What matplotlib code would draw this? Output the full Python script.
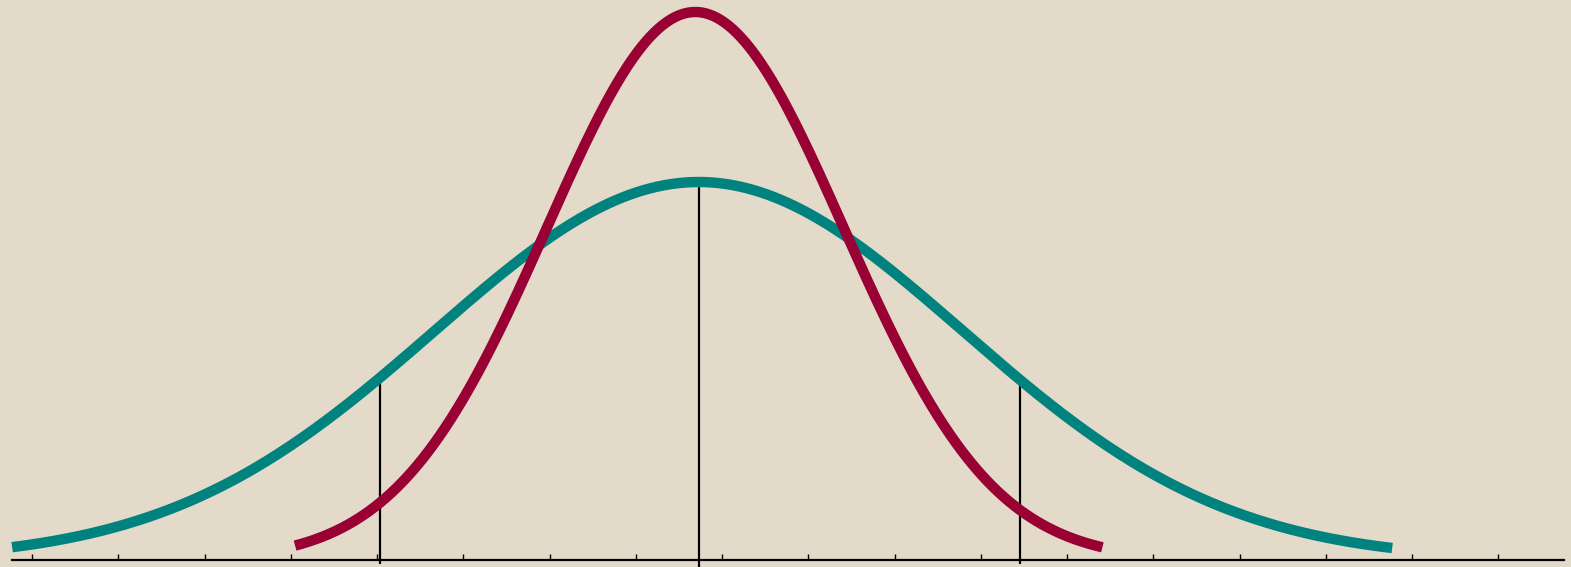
import matplotlib
matplotlib.use('Agg')
import matplotlib.pyplot as plt
import numpy as np

#------------------------------------------------
# values (x in tick units, y in arbitrary height units)
tick_pos = list(range(0, 18))          # small ticks along the base line
axis_span = [-0.23, 17.76]             # where the base line starts and stops

# wide (teal) curve
teal_mean = 7.73
teal_sd = 3.06
teal_peak = 3.78
teal_range = [-0.23, 15.77]

# narrow (crimson) curve
red_mean = 7.69
red_sd = 1.72
red_peak = 5.48
red_range = [3.05, 12.41]

# vertical markers: the mean and the two side lines
mean_line = 7.73
side_lines = [4.035, 11.455]

teal_col = '#00827f'
red_col = '#990033'
bg_col = '#e4dac9'

#------------------------------------------------
def bell(x, mean, sd, peak):
    return peak * np.exp(-(x - mean) ** 2 / (2 * sd ** 2))

fig = plt.figure(figsize=(15.71, 5.67), dpi=100)
fig.patch.set_facecolor(bg_col)
ax = fig.add_axes([0, 0, 1, 1])
ax.set_facecolor(bg_col)

ax.set_xlim(-0.371, 17.843)
ax.set_ylim(-0.07, 5.60)

# vertical lines (under the curves)
ax.vlines(mean_line, -0.07, bell(mean_line, teal_mean, teal_sd, teal_peak),
          color='black', lw=1.6, zorder=1)
ax.vlines(side_lines, -0.04, bell(np.array(side_lines), teal_mean, teal_sd, teal_peak),
          color='black', lw=1.6, zorder=1)

# curves
xt = np.linspace(teal_range[0], teal_range[1], 600)
ax.plot(xt, bell(xt, teal_mean, teal_sd, teal_peak), color=teal_col, lw=7.5,
        solid_capstyle='butt', zorder=2)
xr = np.linspace(red_range[0], red_range[1], 600)
ax.plot(xr, bell(xr, red_mean, red_sd, red_peak), color=red_col, lw=7.5,
        solid_capstyle='butt', zorder=3)

# base line with small upward ticks
for s in ['top', 'right', 'left']:
    ax.spines[s].set_visible(False)
ax.spines['bottom'].set_position(('data', 0))
ax.spines['bottom'].set_bounds(axis_span[0], axis_span[1])
ax.spines['bottom'].set_linewidth(1.6)
ax.spines['bottom'].set_zorder(4)
ax.set_xticks(tick_pos)
ax.tick_params(axis='x', direction='in', length=4, width=1.0, labelbottom=False)
ax.set_yticks([])

fig.savefig('out.png', dpi=100, facecolor=bg_col)
